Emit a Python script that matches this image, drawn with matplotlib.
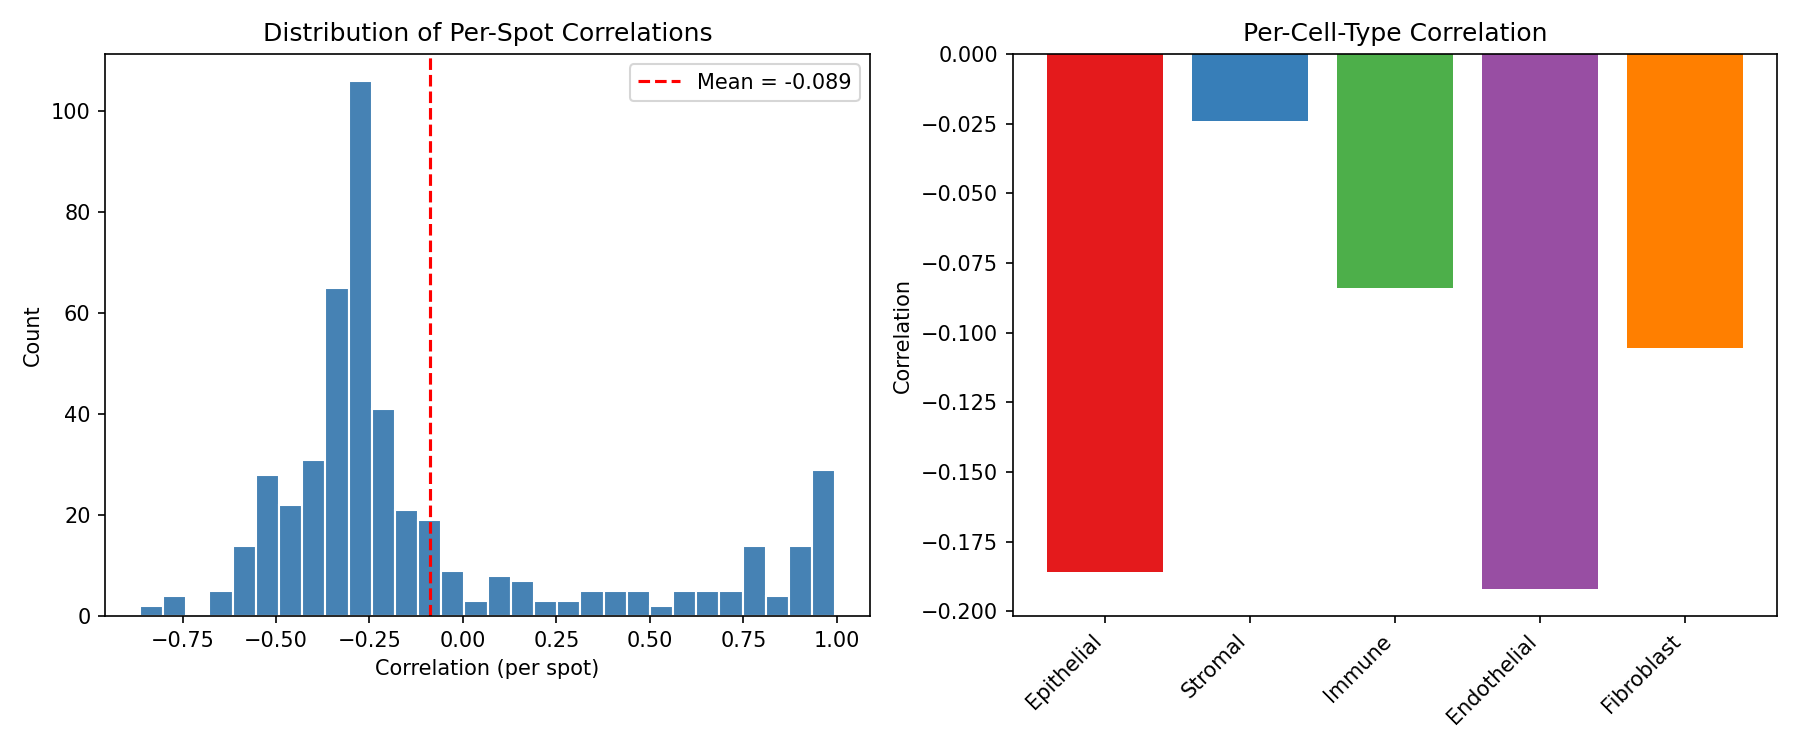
import matplotlib
matplotlib.use("Agg")
import matplotlib.pyplot as plt
import numpy as np

# Histogram data (per-spot correlations)
bin_start = -0.864
bin_end = 0.996
counts = [2, 4, 0, 5, 14, 28, 22, 31, 65, 106, 41, 21, 19, 9, 3,
          8, 7, 3, 3, 5, 5, 5, 2, 5, 5, 5, 14, 4, 14, 29]
mean_corr = -0.089

# Per-cell-type correlations
cell_types = ["Epithelial", "Stromal", "Immune", "Endothelial", "Fibroblast"]
cell_corr = [-0.1857, -0.0240, -0.0839, -0.1921, -0.1056]
cell_colors = ["#e41a1c", "#377eb8", "#4daf4a", "#984ea3", "#ff7f00"]

fig, (ax1, ax2) = plt.subplots(1, 2, figsize=(12, 5), dpi=150)

edges = np.linspace(bin_start, bin_end, len(counts) + 1)
centers = (edges[:-1] + edges[1:]) / 2
ax1.hist(centers, bins=edges, weights=counts, color="steelblue", edgecolor="white")
ax1.axvline(mean_corr, color="red", linestyle="--", linewidth=1.5,
            label=f"Mean = {mean_corr:.3f}")
ax1.set_xlabel("Correlation (per spot)")
ax1.set_ylabel("Count")
ax1.set_title("Distribution of Per-Spot Correlations")
ax1.legend(loc="upper right")

x = np.arange(len(cell_types))
ax2.bar(x, cell_corr, color=cell_colors)
ax2.set_xticks(x)
ax2.set_xticklabels(cell_types, rotation=45, ha="right")
ax2.set_ylabel("Correlation")
ax2.set_title("Per-Cell-Type Correlation")

fig.tight_layout()
fig.savefig("out.png")
